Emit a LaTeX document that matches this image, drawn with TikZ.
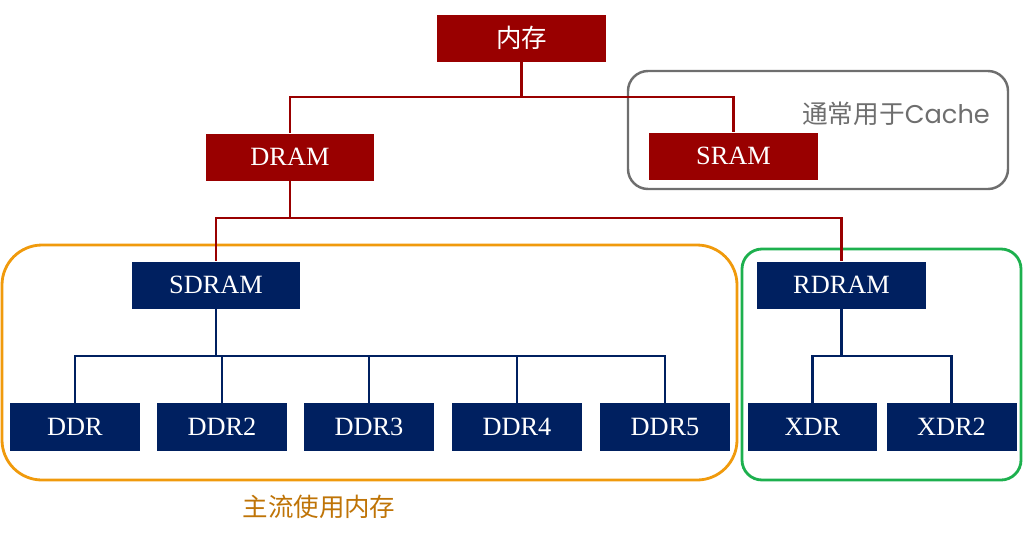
\documentclass[tikz,border=0pt]{standalone}
\usepackage{fontspec}
\setmainfont{Liberation Serif}
\newfontfamily\cjk{Noto Sans CJK SC}
\newfontfamily\geo{Poppins}
\definecolor{memred}{HTML}{990000}
\definecolor{memblue}{HTML}{002060}
\definecolor{mainorange}{HTML}{F09A0C}
\definecolor{textorange}{HTML}{BF7407}
\definecolor{cachegreen}{HTML}{1DB04E}
\definecolor{cachegray}{HTML}{6E6E6E}
\tikzset{
	redbox/.style={fill=memred,text=white,minimum width=3.38cm,minimum height=0.94cm,inner sep=0pt,font=\fontsize{15}{18}\selectfont},
	bluebox/.style={fill=memblue,text=white,minimum width=3.38cm,minimum height=0.94cm,inner sep=0pt,font=\fontsize{15}{18}\selectfont},
	smallbox/.style={bluebox,minimum width=2.6cm,minimum height=0.96cm},
	redline/.style={draw=memred,line width=1.4pt},
	blueline/.style={draw=memblue,line width=1.4pt},
	groupbox/.style={line width=1.6pt,rounded corners=0.4cm},
}
\begin{document}
\begin{tikzpicture}[x=0.02cm,y=-0.02cm]
			\useasboundingbox(0,0)rectangle(1024,532);
			% group frames
			\draw[groupbox,cachegray,line width=1.4pt](628,71)rectangle(1008,189);
			\draw[groupbox,mainorange,rounded corners=0.8cm](2,245)rectangle(737,480);
			\draw[groupbox,cachegreen](742,249)rectangle(1021,480);
			\node[text=cachegray,font=\fontsize{14.6}{17}\selectfont](cachelabel)at(896,114){{\cjk 通常用于}{\geo Cache}};
			\node[text=textorange,font=\cjk\fontsize{14.5}{17}\selectfont](mainlabel)at(319,507){主流使用内存};
			% boxes
			\node[redbox,font=\cjk\fontsize{14.5}{17}\selectfont](mem)at(521.5,38){内存};
			\node[redbox](dram)at(290,157){DRAM};
			\node[redbox](sram)at(733.5,156){SRAM};
			\node[bluebox](sdram)at(216,285){SDRAM};
			\node[bluebox](rdram)at(841.5,285){RDRAM};
			\node[smallbox](ddr1)at(75,427){DDR};
			\node[smallbox](ddr2)at(222,427){DDR2};
			\node[smallbox](ddr3)at(369,427){DDR3};
			\node[smallbox](ddr4)at(517,427){DDR4};
			\node[smallbox](ddr5)at(665,427){DDR5};
			\node[smallbox](xdr1)at(812.5,427){XDR};
			\node[smallbox](xdr2)at(951.5,427){XDR2};
			% buses
			\coordinate(busA)at(0,97);
			\coordinate(busB)at(0,218);
			\coordinate(busC)at(0,356);
			\draw[redline](mem.south)--(mem.south|-busA)-|(dram.north);
			\draw[redline](mem.south|-busA)-|(sram.north);
			\draw[redline](dram.south)--(dram.south|-busB)-|(sdram.north);
			\draw[redline](dram.south|-busB)-|(rdram.north);
			\draw[blueline](sdram.south)--(sdram.south|-busC);
			\foreach \d in {ddr1,ddr2,ddr3,ddr4,ddr5}
				\draw[blueline](sdram.south|-busC)-|(\d.north);
			\draw[blueline](rdram.south)--(rdram.south|-busC);
			\foreach \d in {xdr1,xdr2}
				\draw[blueline](rdram.south|-busC)-|(\d.north);
		\end{tikzpicture}
\end{document}
